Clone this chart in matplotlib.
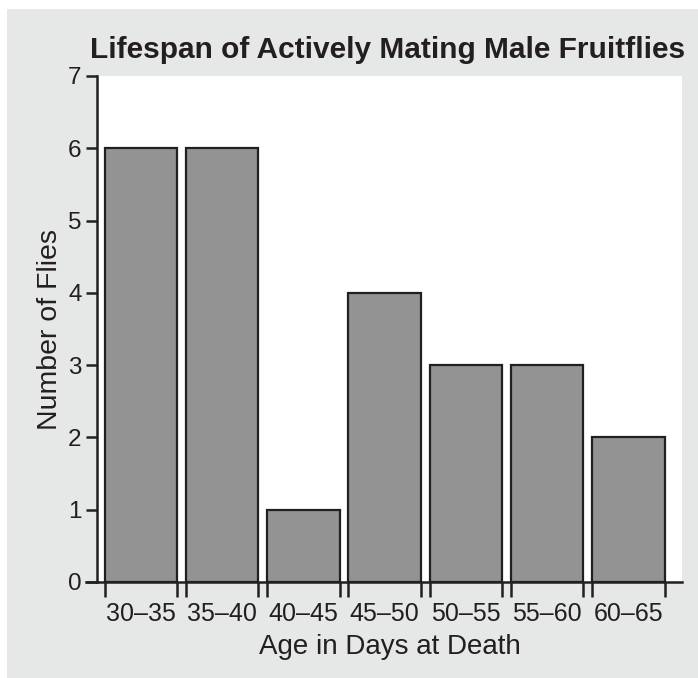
import numpy as np
import matplotlib.pyplot as plt
from matplotlib.patches import Rectangle

# data
age_bins = ["30–35", "35–40", "40–45", "45–50", "50–55", "55–60", "60–65"]
fly_counts = [6, 6, 1, 4, 3, 3, 2]

panel_color = "#e6e7e7"
bar_color = "#939393"
ink = "#231f20"

plt.rcParams['font.family'] = ['Liberation Sans', 'DejaVu Sans']

fig = plt.figure(figsize=(6.98, 6.78), dpi=100)
fig.patch.set_facecolor("white")
# gray panel behind everything
fig.patches.append(Rectangle((7 / 698, 0), 1 - 7 / 698, 1 - 9 / 678,
                             transform=fig.transFigure, facecolor=panel_color,
                             edgecolor="none", zorder=-10))

ax = fig.add_axes([97 / 698, 1 - 582 / 678, (682 - 97) / 698, (582 - 76) / 678])
ax.set_facecolor("white")

x = np.arange(len(age_bins))
width = 0.895
ax.bar(x, fly_counts, width=width, color=bar_color, edgecolor=ink,
       linewidth=1.6, zorder=3)

ax.set_xlim(-0.54, 6.66)
ax.set_ylim(0, 7)

for s in ["top", "right"]:
    ax.spines[s].set_visible(False)
ax.spines["left"].set_linewidth(1.8)
ax.spines["left"].set_color(ink)
ax.spines["bottom"].set_linewidth(1.8)
ax.spines["bottom"].set_color(ink)
ax.spines["bottom"].set_bounds(-0.67, 6.66)

ax.set_yticks(range(0, 8))
ax.tick_params(axis="y", length=8, width=1.8, color=ink, labelsize=17.5,
               labelcolor=ink, pad=3)

# ticks at the bar edges, labels centred under the bars
edges = np.concatenate([x - width / 2, x + width / 2])
ax.set_xticks(edges)
ax.set_xticklabels([])
ax.tick_params(axis="x", length=11, width=1.8, color=ink)
ax.set_xticks(x, minor=True)
ax.set_xticklabels(age_bins, minor=True)
ax.tick_params(axis="x", which="minor", length=0, labelsize=18,
               labelcolor=ink, pad=14.5)

ax.set_xlabel("Age in Days at Death", fontsize=20, color=ink, labelpad=6)
ax.set_ylabel("Number of Flies", fontsize=20.5, color=ink, labelpad=4)

fig.text(0.555, 1 - 50 / 678, "Lifespan of Actively Mating Male Fruitflies",
         ha="center", va="center", fontsize=21.5, fontweight="bold", color=ink,
         family=['Liberation Sans Narrow', 'Liberation Sans', 'DejaVu Sans'],
         stretch="condensed")

fig.savefig("out.png", dpi=100, facecolor=fig.get_facecolor())
